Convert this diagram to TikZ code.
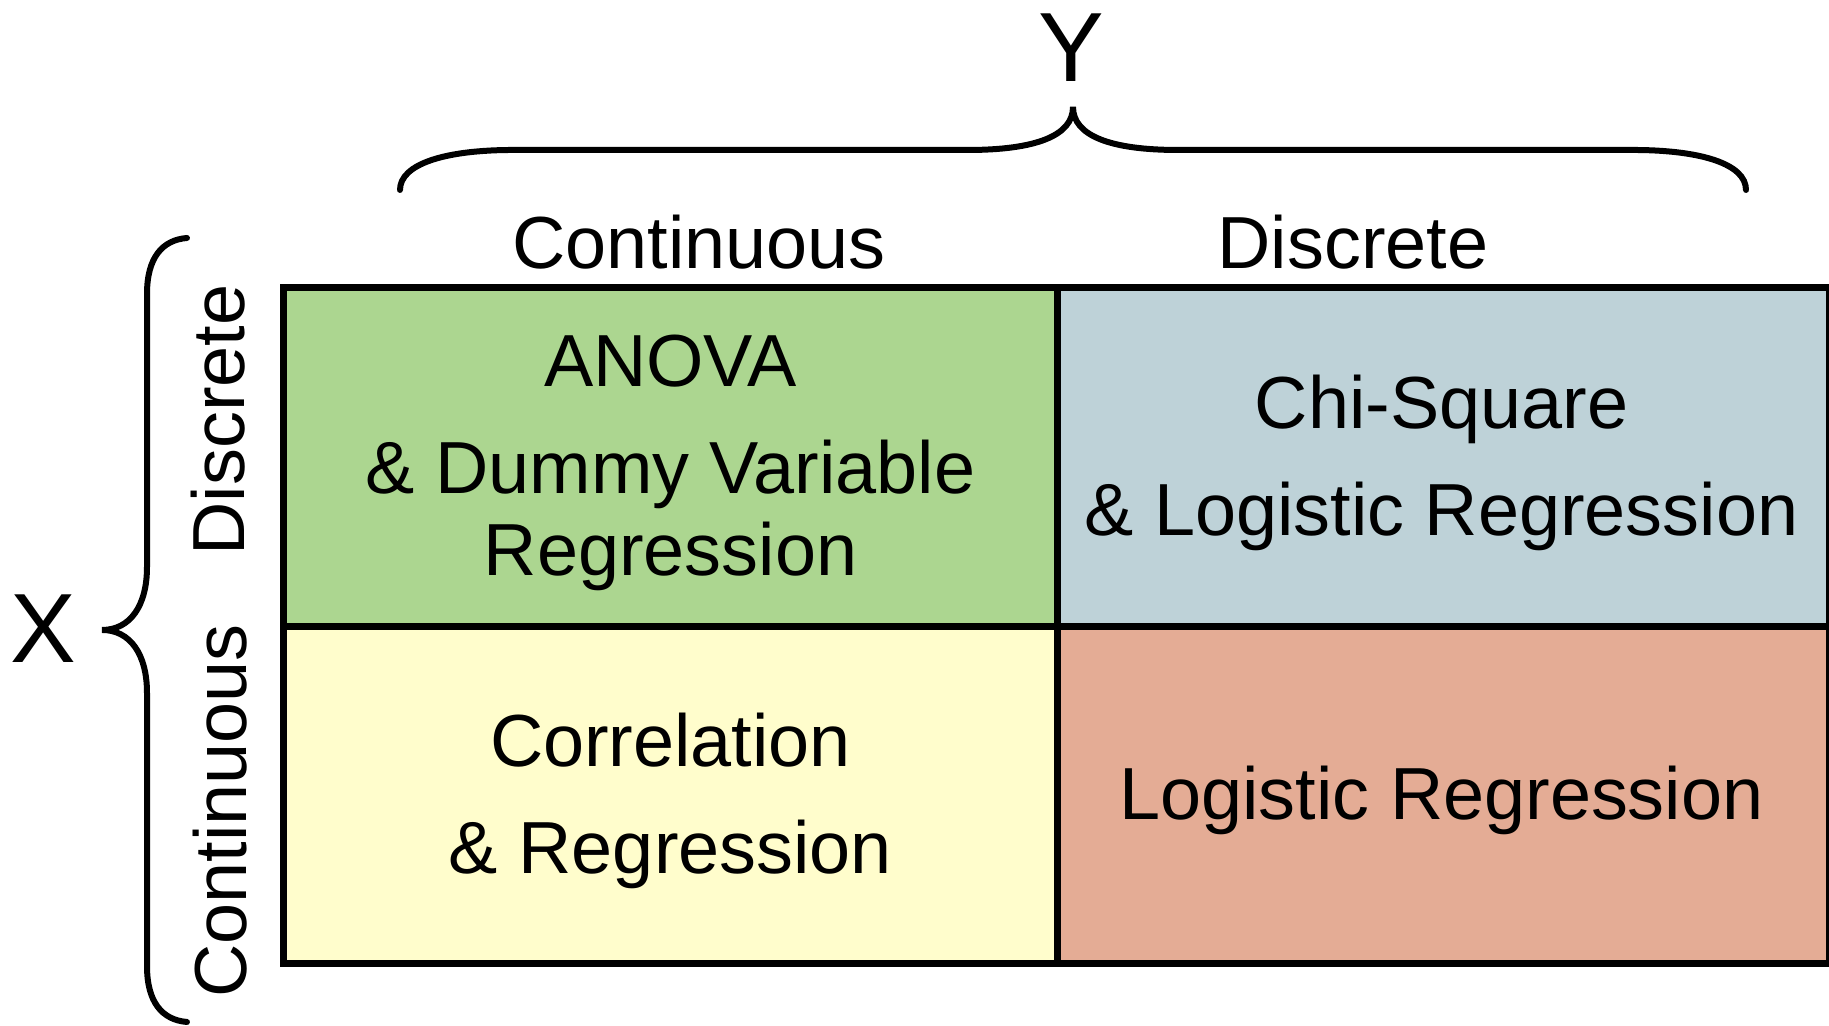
\documentclass[tikz,border=0pt]{standalone}
\usepackage{fontspec}
\setmainfont{Liberation Sans}
\usepackage{tikz}
\usetikzlibrary{positioning}
\definecolor{s1}{RGB}{172, 214, 144}
\definecolor{s2}{RGB}{190, 210, 216}
\definecolor{s3}{RGB}{255, 253, 204}
\definecolor{s4}{RGB}{228, 172, 149}

\begin{document}
\begin{tikzpicture}
    \tikzstyle{cell}=[rectangle, draw=black, line width=0.07cm, outer sep=0pt, inner sep=0pt]
    \tikzstyle{celltext}=[align=center, font=\fontsize{21}{30.45}\selectfont, yshift=-0.05cm]
    \tikzstyle{headtext}=[anchor=base, font=\fontsize{21}{25}\selectfont]
    \tikzstyle{vartext}=[anchor=base, font=\fontsize{28}{32}\selectfont]
    \tikzstyle{brace}=[line width=0.06cm, line cap=round, color=black]

    \useasboundingbox (0, 0) rectangle (18.29, 10.26);

    % Draw the four cells
    \node [cell, fill=s1, minimum width=7.74cm, minimum height=3.39cm] (anova) at (6.705, 5.685) {};
    \node [cell, fill=s2, minimum width=7.72cm, minimum height=3.39cm, right=0pt of anova] (chisq) {};
    \node [cell, fill=s3, minimum width=7.74cm, minimum height=3.37cm, below=0pt of anova] (corr) {};
    \node [cell, fill=s4, minimum width=7.72cm, minimum height=3.37cm, below=0pt of chisq] (logit) {};

    % Cell texts
    \node [celltext] (anovatext) at (anova) {ANOVA\\ \& Dummy Variable\\[-0.25cm] Regression};
    \node [celltext, xshift=-0.02cm] (chisqtext) at (chisq) {Chi-Square\\ \& Logistic Regression};
    \node [celltext] (corrtext) at (corr) {Correlation\\ \& Regression};
    \node [celltext, xshift=-0.02cm] (logittext) at (logit) {Logistic Regression};

    % Column heads
    \node [headtext] (ycont) at (6.99, 7.575) {Continuous};
    \node [headtext] (ydisc) at (13.53, 7.575) {Discrete};
    % Row heads
    \node [headtext, rotate=90] (xdisc) at (2.44, 6.06) {Discrete};
    \node [headtext, rotate=90] (xcont) at (2.47, 2.15) {Continuous};

    % Top brace
    \draw [brace] (4.00, 8.36) .. controls (4.00, 8.62) and (4.45, 8.76) .. (5.13, 8.76)
        -- (9.68, 8.76) .. controls (10.35, 8.76) and (10.73, 8.90) .. (10.73, 9.19)
        .. controls (10.73, 8.90) and (11.11, 8.76) .. (11.78, 8.76)
        -- (16.33, 8.76) .. controls (17.01, 8.76) and (17.46, 8.62) .. (17.46, 8.36);
    \node [vartext] (ylab) at (10.71, 9.44) {Y};

    % Left brace
    \draw [brace] (1.87, 7.88) .. controls (1.62, 7.86) and (1.47, 7.68) .. (1.47, 7.32)
        -- (1.47, 4.59) .. controls (1.47, 4.20) and (1.30, 3.96) .. (1.02, 3.96)
        .. controls (1.30, 3.96) and (1.47, 3.72) .. (1.47, 3.33)
        -- (1.47, 0.60) .. controls (1.47, 0.24) and (1.62, 0.06) .. (1.87, 0.04);
    \node [vartext] (xlab) at (0.43, 3.63) {X};

\end{tikzpicture}
\end{document}
